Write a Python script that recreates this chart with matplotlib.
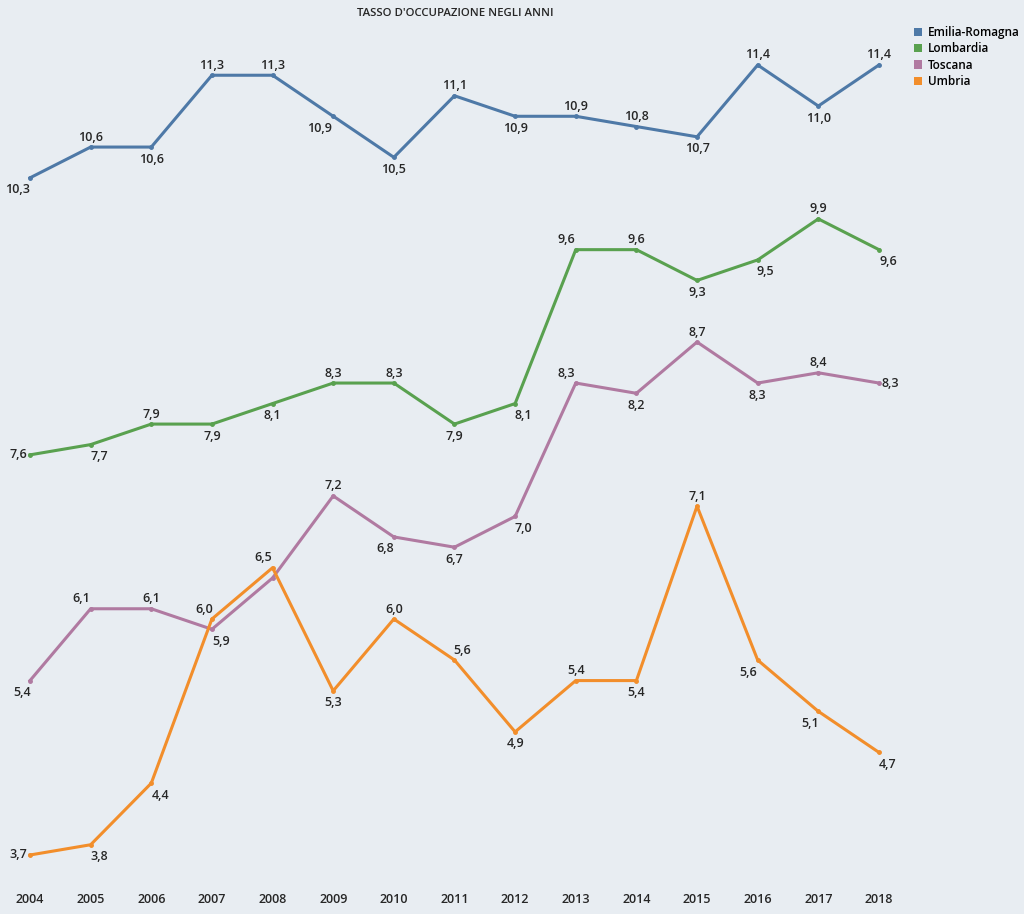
import matplotlib.pyplot as plt
from matplotlib.patches import Patch

years = list(range(2004, 2019))
regions = ['Emilia-Romagna', 'Lombardia', 'Toscana', 'Umbria']
colors = ['#4e79a7', '#59a14f', '#b07aa1', '#f28e2b']

emilia = [10.3, 10.6, 10.6, 11.3, 11.3, 10.9, 10.5, 11.1, 10.9, 10.9, 10.8, 10.7, 11.4, 11.0, 11.4]
lombardia = [7.6, 7.7, 7.9, 7.9, 8.1, 8.3, 8.3, 7.9, 8.1, 9.6, 9.6, 9.3, 9.5, 9.9, 9.6]
toscana = [5.4, 6.1, 6.1, 5.9, 6.4, 7.2, 6.8, 6.7, 7.0, 8.3, 8.2, 8.7, 8.3, 8.4, 8.3]
umbria = [3.7, 3.8, 4.4, 6.0, 6.5, 5.3, 6.0, 5.6, 4.9, 5.4, 5.4, 7.1, 5.6, 5.1, 4.7]
series = [emilia, lombardia, toscana, umbria]

# label placement: a = above, b = below, l = left, r = right, n = hidden
label_pos = [
    'babaabbabaababa',
    'lbabbaabbaabbab',
    'baabnabbbababar',
    'lbbaabaabababbb',
]
# horizontal nudge of each label (pixels)
label_dx = [
    [-12, 0, 0, 0, 0, -14, 0, 0, 0, 0, 0, 0, 0, 0, 0],
    [0, 9, 0, 0, 0, 0, 0, 0, 8, -9, 0, 0, 8, 0, 9],
    [-8, -9, 0, 9, 0, 0, -9, 0, 8, -9, 0, 0, 0, 0, 0],
    [0, 9, 9, -8, -9, 0, 0, 8, 0, 0, 0, 0, -9, -8, 9],
]

bg = '#e8edf2'
txt_col = '#262626'
plt.rcParams['font.family'] = ['Open Sans', 'DejaVu Sans']

fig = plt.figure(figsize=(10.24, 9.14), dpi=100, facecolor=bg)
ax = fig.add_axes([0, 1 - 885 / 914, 1, 885 / 914])
ax.set_facecolor(bg)

for vals, col, pos, dxs in zip(series, colors, label_pos, label_dx):
    ax.plot(years, vals, color=col, lw=2.2, marker='o', ms=2.5, solid_joinstyle='round')
    for x, v, p, dx in zip(years, vals, pos, dxs):
        if p == 'n':
            continue
        txt = f'{v:.1f}'.replace('.', ',')
        ha = 'center'
        if p == 'a':
            off = (dx, 10)
        elif p == 'b':
            off = (dx, -12)
        elif p == 'l':
            off, ha = (-3, 0), 'right'
        else:
            off, ha = (3, 0), 'left'
        ax.annotate(txt, (x, v), xytext=off, textcoords='offset pixels',
                    ha=ha, va='center', fontsize=9, fontweight='semibold', color=txt_col)

ax.set_xlim(2004 - 30 / 60.64, 2004 + 994 / 60.64)
ax.set_ylim(3.7 - 30 / 102.6, 3.7 + 855 / 102.6)
ax.set_xticks(years)
ax.set_xticklabels([str(y) for y in years], fontsize=9, fontweight='semibold', color=txt_col)
ax.tick_params(axis='x', length=0, pad=6)
ax.set_yticks([])
for s in ax.spines.values():
    s.set_visible(False)

fig.text(455 / 1024, 1 - 13 / 914, "TASSO D'OCCUPAZIONE NEGLI ANNI", ha='center', va='center',
         fontsize=8.2, fontweight='semibold', color=txt_col)

handles = [Patch(facecolor=c, edgecolor='none') for c in colors]
fig.legend(handles, regions, loc='upper left', bbox_to_anchor=(914 / 1024, 1 - 26 / 914),
           frameon=False, handlelength=0.7, handleheight=0.7,
           handletextpad=0.45, labelspacing=0.28, borderaxespad=0, borderpad=0,
           prop={'weight': 'semibold', 'size': 8.5})

fig.savefig('out.png', dpi=100, facecolor=bg)
